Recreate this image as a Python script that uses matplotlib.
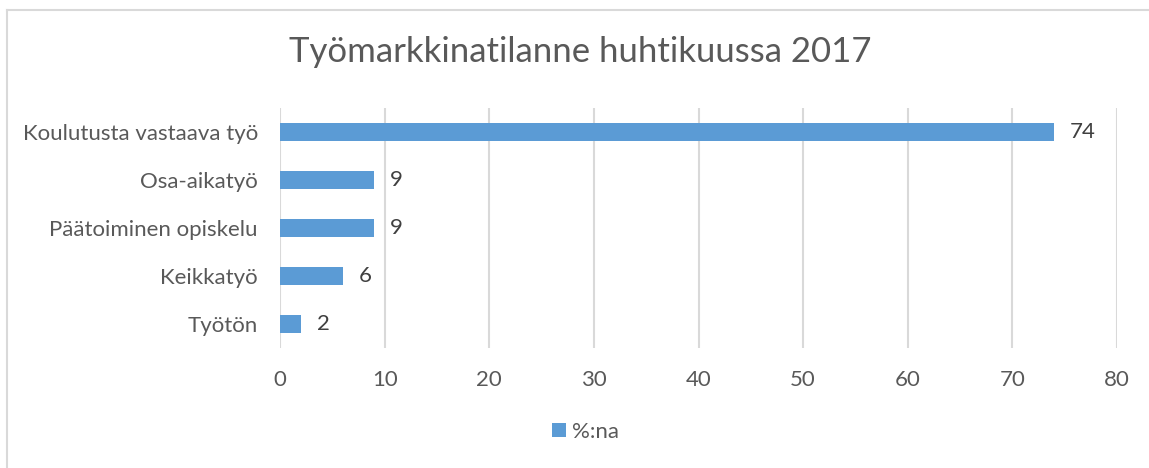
import matplotlib
matplotlib.use('Agg')
import matplotlib.pyplot as plt
from matplotlib.lines import Line2D
from matplotlib.patches import Patch

categories = ['Koulutusta vastaava työ', 'Osa-aikatyö', 'Päätoiminen opiskelu', 'Keikkatyö', 'Työtön']
values = [74, 9, 9, 6, 2]
xticks = [0, 10, 20, 30, 40, 50, 60, 70, 80]
title = 'Työmarkkinatilanne huhtikuussa 2017'
legend_label = '%:na'

bar_color = '#5B9BD5'
text_color = '#595959'
grid_color = '#D9D9D9'

plt.rcParams['font.family'] = ['Lato', 'DejaVu Sans']

fig = plt.figure(figsize=(11.49, 4.68), dpi=100)
ax = fig.add_axes([0.2437, 0.2564, 0.7285, 0.5128])

ypos = list(range(len(categories)))[::-1]
ax.barh(ypos, values, height=0.36, color=bar_color, zorder=3)
for y, v in zip(ypos, values):
    ax.text(v + 1.5, y, str(v), va='center', ha='left', fontsize=16, color='#404040')

ax.set_xlim(0, 80)
ax.set_ylim(-0.5, len(categories) - 0.5)
ax.set_xticks(xticks)
ax.set_xticklabels([str(t) for t in xticks])
ax.set_yticks(ypos)
ax.set_yticklabels(categories)
ax.tick_params(axis='both', length=0, labelsize=16, labelcolor=text_color)
ax.tick_params(axis='x', pad=16)
ax.tick_params(axis='y', pad=16)
ax.xaxis.grid(True, color=grid_color, linewidth=1.5, zorder=0)
for s in ax.spines.values():
    s.set_visible(False)

fig.text(0.505, 0.888, title, ha='center', va='center', fontsize=25, color=text_color)

handles = [Patch(facecolor=bar_color, label=legend_label)]
fig.legend(handles=handles, loc='center', bbox_to_anchor=(0.51, 0.077), frameon=False,
           fontsize=16, labelcolor=text_color, handlelength=0.6, handleheight=0.6,
           handletextpad=0.3)

# chart border (top and left visible)
fig.add_artist(Line2D([7 / 1149, 1], [1 - 10 / 468, 1 - 10 / 468], color=grid_color, lw=1.5))
fig.add_artist(Line2D([7 / 1149, 7 / 1149], [0, 1 - 10 / 468], color=grid_color, lw=1.5))

fig.savefig('out.png', dpi=100)
